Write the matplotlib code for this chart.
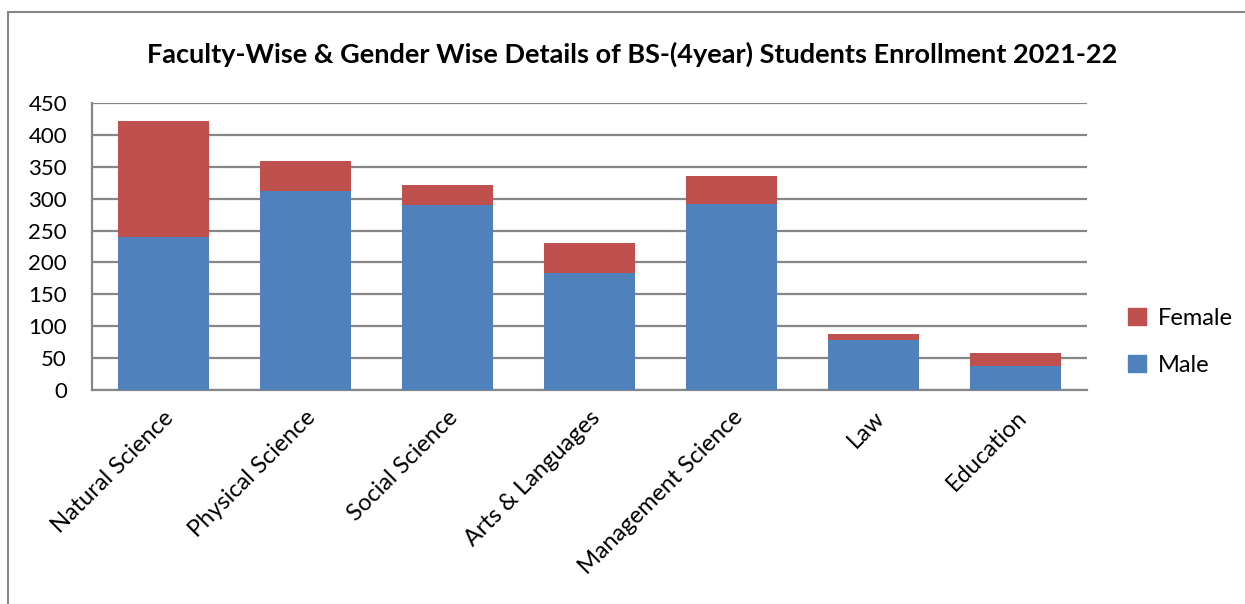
import matplotlib.pyplot as plt
from matplotlib.patches import Rectangle, Patch

faculties = ["Natural Science", "Physical Science", "Social Science", "Arts & Languages",
             "Management Science", "Law", "Education"]
male = [240, 312, 290, 183, 292, 78, 37]
female = [181, 47, 32, 48, 44, 10, 21]

blue = "#4F81BD"
red = "#C0504D"
grid_gray = "#868686"

plt.rcParams["font.family"] = ["Lato", "DejaVu Sans"]

fig = plt.figure(figsize=(12.45, 6.04), dpi=100)
ax = fig.add_axes([92 / 1245, 1 - 390 / 604, 995 / 1245, 287 / 604])

x = range(len(faculties))
ax.bar(x, male, width=0.64, color=blue, label="Male", zorder=3)
ax.bar(x, female, width=0.64, bottom=male, color=red, label="Female", zorder=3)

ax.set_xlim(-0.5, len(faculties) - 0.5)
ax.set_ylim(0, 450)
ax.set_yticks(range(0, 451, 50))
ax.yaxis.grid(True, color=grid_gray, linewidth=1.6, zorder=0)
ax.set_axisbelow(True)
for side in ["top", "right"]:
    ax.spines[side].set_visible(False)
for side in ["left", "bottom"]:
    ax.spines[side].set_color(grid_gray)
    ax.spines[side].set_linewidth(1.6)
ax.tick_params(axis="y", length=0, labelsize=16, pad=18)
ax.tick_params(axis="x", length=0, pad=12)
ax.set_xticks(list(x))
ax.set_xticklabels(faculties, rotation=45, ha="right", rotation_mode="anchor", fontsize=17)

fig.text(632 / 1245, 1 - 54 / 604,
         "Faculty-Wise & Gender Wise Details of BS-(4year) Students Enrollment 2021-22",
         ha="center", va="center", fontsize=19.5, fontweight="bold")

handles = [Patch(color=red, label="Female"), Patch(color=blue, label="Male")]
fig.legend(handles=handles, loc="center left", bbox_to_anchor=(1128 / 1245, 1 - 342 / 604),
           frameon=False, fontsize=17, handlelength=0.75, handleheight=0.75,
           labelspacing=1.1, handletextpad=0.5, borderpad=0, borderaxespad=0)

fig.patches.append(Rectangle((8 / 1245, -0.05), 1.2, 1 - 12 / 604 + 0.05,
                             transform=fig.transFigure, fill=False,
                             edgecolor=grid_gray, linewidth=1.5))

fig.savefig("out.png", dpi=100)
